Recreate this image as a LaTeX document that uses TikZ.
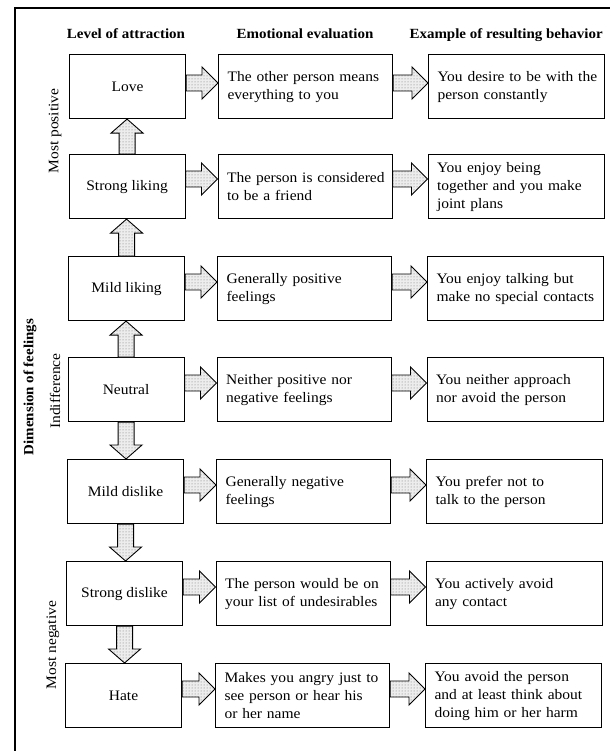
\documentclass[tikz,border=0pt]{standalone}
\usepackage{fontspec}
\setmainfont{Liberation Serif}[FakeStretch=1.07]
\usetikzlibrary{calc,patterns}

% block arrow pointing right, from the east side of #1 to the west side of #2,
% its axis #3 below the top of #1
\newcommand\rightblock[3]{%
  \path[blockarrow] let \p1=($(#1.north east)+(0,#3)$), \p2=(#2.west) in
    (\x1,\y1+8pt) -- (\x2-16pt,\y1+8pt) -- (\x2-16pt,\y1+16pt) -- (\x2,\y1)
    -- (\x2-16pt,\y1-16pt) -- (\x2-16pt,\y1-8pt) -- (\x1,\y1-8pt) -- cycle;}
% block arrow pointing up, from the top of #1 to the bottom of #2
\newcommand\upblock[2]{%
  \path[blockarrow] let \p1=(#1.north), \p2=(#2.south) in
    (\x1-8pt,\y1) -- (\x1-8pt,\y2-14pt) -- (\x1-16pt,\y2-14pt) -- (\x1,\y2)
    -- (\x1+16pt,\y2-14pt) -- (\x1+8pt,\y2-14pt) -- (\x1+8pt,\y1) -- cycle;}
% block arrow pointing down, from the bottom of #1 to the top of #2
\newcommand\downblock[2]{%
  \path[blockarrow] let \p1=(#1.south), \p2=(#2.north) in
    (\x1-8pt,\y1) -- (\x1-8pt,\y2+14pt) -- (\x1-16pt,\y2+14pt) -- (\x1,\y2)
    -- (\x1+16pt,\y2+14pt) -- (\x1+8pt,\y2+14pt) -- (\x1+8pt,\y1) -- cycle;}

\begin{document}
\begin{tikzpicture}[x=1pt,y=-1pt,
  font=\fontsize{14.5}{18}\selectfont,
  box/.style={draw, line width=1.1pt, anchor=north west, minimum height=64pt, inner ysep=0pt},
  levelbox/.style={box, minimum width=116pt, inner xsep=0pt, align=center},
  textbox/.style={box, inner xsep=0pt, align=left,
    execute at begin node={\leftskip=9pt\relax\hyphenpenalty=10000\relax}},
  evalbox/.style={textbox, text width=174pt},
  behavbox/.style={textbox, text width=176pt},
  heading/.style={font=\fontsize{14}{17}\selectfont\bfseries, anchor=base},
  sidelabel/.style={rotate=90, anchor=center},
  blockarrow/.style={draw, line width=0.9pt, line join=miter,
    preaction={fill=black!7}, pattern=dots, pattern color=black!55},
  frame/.style={line width=2.4pt}
]
\useasboundingbox (0,0) rectangle (610,751);
\begin{scope}
\clip (0,0) rectangle (610,751);

% outer frame (open to the right and below)
\coordinate (fbl) at (15,751);
\coordinate (ftl) at (15,8);
\coordinate (ftr) at (610,8);
\draw[frame] (fbl) -- (ftl) -- (ftr);

% column headings
\node[heading] (h1) at (126,39) {Level of attraction};
\node[heading] (h2) at (305,39) {Emotional evaluation};
\node[heading, anchor=base west] (h3) at (406,39) {Example of resulting behavior};

% side labels
\node[sidelabel, font=\fontsize{14}{17}\selectfont\bfseries] (dim) at (30,387) {Dimension of feelings};
\node[sidelabel] (mostpos) at (55,131) {Most positive};
\node[sidelabel] (indiff) at (55,391) {Indifference};
\node[sidelabel] (mostneg) at (53,645) {Most negative};

% level of attraction
\node[levelbox] (l1) at (69,54)   {Love};
\node[levelbox] (l2) at (68.5,154) {Strong liking};
\node[levelbox] (l3) at (68,256)  {Mild liking};
\node[levelbox] (l4) at (67.5,357) {Neutral};
\node[levelbox] (l5) at (67,459)  {Mild dislike};
\node[levelbox] (l6) at (66,561)  {Strong dislike};
\node[levelbox] (l7) at (65,663)  {Hate};

% emotional evaluation
\node[evalbox] (e1) at (218,54)    {The other person means\\everything to you};
\node[evalbox] (e2) at (217.5,154) {The person is considered\\to be a friend};
\node[evalbox] (e3) at (217,256)   {Generally positive\\feelings};
\node[evalbox] (e4) at (216.5,357) {Neither positive nor\\negative feelings};
\node[evalbox] (e5) at (216,459)   {Generally negative\\feelings};
\node[evalbox] (e6) at (215.5,561) {The person would be on\\your list of undesirables};
\node[evalbox] (e7) at (215,663)   {Makes you angry just to\\see person or hear his\\or her name};

% resulting behavior
\node[behavbox] (b1) at (428,54)    {You desire to be with the\\person constantly};
\node[behavbox] (b2) at (427.5,154) {You enjoy being\\together and you make\\joint plans};
\node[behavbox] (b3) at (427,256)   {You enjoy talking but\\make no special contacts};
\node[behavbox] (b4) at (426.5,357) {You neither approach\\nor avoid the person};
\node[behavbox] (b5) at (426,459)   {You prefer not to\\talk to the person};
\node[behavbox] (b6) at (425.5,561) {You actively avoid\\any contact};
\node[behavbox] (b7) at (425,663)   {You avoid the person\\and at least think about\\doing him or her harm};

% horizontal block arrows
\rightblock{l1}{e1}{29} \rightblock{e1}{b1}{29}
\rightblock{l2}{e2}{25} \rightblock{e2}{b2}{25}
\rightblock{l3}{e3}{26} \rightblock{e3}{b3}{26}
\rightblock{l4}{e4}{26} \rightblock{e4}{b4}{26}
\rightblock{l5}{e5}{26} \rightblock{e5}{b5}{26}
\rightblock{l6}{e6}{26} \rightblock{e6}{b6}{26}
\rightblock{l7}{e7}{26} \rightblock{e7}{b7}{26}

% vertical block arrows away from neutral
\upblock{l2}{l1}
\upblock{l3}{l2}
\upblock{l4}{l3}
\downblock{l4}{l5}
\downblock{l5}{l6}
\downblock{l6}{l7}
\end{scope}
\end{tikzpicture}
\end{document}
